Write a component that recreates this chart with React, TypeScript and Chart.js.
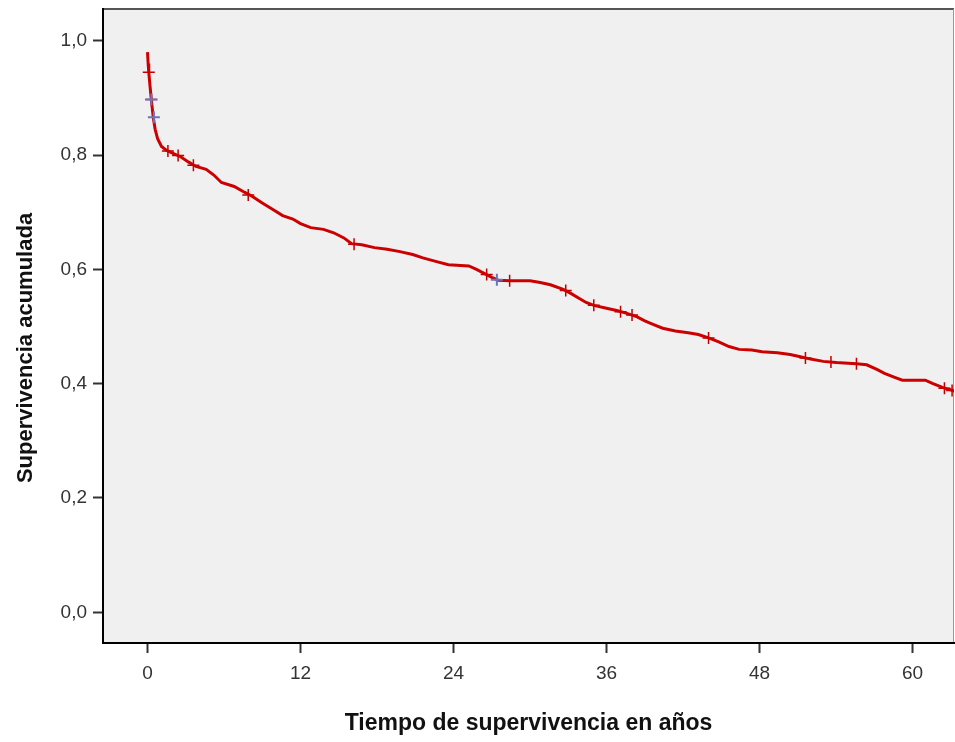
import React, { useEffect, useRef } from "react";
import { Chart, registerables } from "chart.js";

Chart.register(...registerables);

// Kaplan-Meier cumulative survival
const SURV_TIMES = [
  0, 0.05, 0.1, 0.2, 0.3, 0.45, 0.6, 0.8, 1.1, 1.5, 2.0, 2.6, 3.2, 3.8, 4.6, 5.2, 5.8, 6.8, 7.6, 8.2,
  9.0, 9.8, 10.6, 11.4, 12.0, 12.8, 13.8, 14.6, 15.4, 16.0, 16.8, 17.8, 18.8, 19.8, 20.8, 21.6, 22.6,
  23.6, 25.2, 25.8, 26.4, 27.0, 27.5, 28.4, 30.0, 30.8, 31.6, 32.6, 33.2, 33.8, 34.4, 35.0, 36.0, 36.8,
  37.6, 38.4, 39.0, 39.6, 40.4, 41.4, 42.4, 43.2, 44.0, 44.8, 45.6, 46.4, 47.4, 48.2, 49.4, 50.4, 51.2,
  52.0, 53.0, 54.0, 55.6, 56.4, 57.2, 57.8, 58.6, 59.2, 61.0, 61.6, 62.4, 63.3,
];
const SURV_VALUES = [
  0.98, 0.96, 0.945, 0.92, 0.897, 0.866, 0.845, 0.828, 0.815, 0.808, 0.803, 0.797, 0.788, 0.78, 0.775,
  0.765, 0.752, 0.745, 0.735, 0.728, 0.716, 0.705, 0.694, 0.688, 0.68, 0.673, 0.67, 0.664, 0.655, 0.645,
  0.643, 0.638, 0.635, 0.631, 0.626, 0.62, 0.614, 0.608, 0.606, 0.6, 0.593, 0.586, 0.581, 0.58, 0.58,
  0.577, 0.573, 0.565, 0.558, 0.55, 0.542, 0.537, 0.532, 0.528, 0.523, 0.517, 0.51, 0.504, 0.497, 0.492,
  0.489, 0.486, 0.48, 0.473, 0.465, 0.46, 0.459, 0.456, 0.454, 0.451, 0.447, 0.443, 0.439, 0.437, 0.435,
  0.433, 0.425, 0.418, 0.411, 0.406, 0.406, 0.4, 0.393, 0.387,
];

// Censored observations (red)
const CENSOR_TIMES = [
  0.1, 0.3, 1.6, 2.4, 3.6, 7.9, 16.2, 26.6, 28.4, 32.8, 35.0, 37.1, 38.0, 44.0, 51.6, 53.6, 55.6, 62.5, 63.1,
];
const CENSOR_VALUES = [
  0.945, 0.897, 0.807, 0.799, 0.782, 0.73, 0.644, 0.591, 0.58, 0.563, 0.537, 0.526, 0.52, 0.48, 0.445,
  0.438, 0.435, 0.392, 0.388,
];
// Censored observations (blue)
const CENSOR_BLUE_TIMES = [0.3, 0.5, 27.4];
const CENSOR_BLUE_VALUES = [0.897, 0.866, 0.582];

const X_TICKS = [0, 12, 24, 36, 48, 60];
const Y_TICKS = [0, 0.2, 0.4, 0.6, 0.8, 1.0];
const X_TITLE = "Tiempo de supervivencia en años";
const Y_TITLE = "Supervivencia acumulada";

const plotBgPlugin = {
  id: "plotBg",
  beforeDraw(chart: any) {
    const { ctx, chartArea } = chart;
    const { left, top, right, bottom } = chartArea;
    ctx.save();
    ctx.fillStyle = "#f0f0f0";
    ctx.fillRect(left, top, right - left, bottom - top);
    ctx.strokeStyle = "#555555";
    ctx.lineWidth = 2;
    ctx.beginPath();
    ctx.moveTo(left, top);
    ctx.lineTo(right, top);
    ctx.stroke();
    ctx.strokeStyle = "#999999";
    ctx.lineWidth = 1;
    ctx.beginPath();
    ctx.moveTo(right - 0.5, top);
    ctx.lineTo(right - 0.5, bottom);
    ctx.stroke();
    ctx.restore();
  },
};

const yTitlePlugin = {
  id: "yTitle",
  afterDraw(chart: any) {
    const { ctx, chartArea } = chart;
    ctx.save();
    ctx.translate(chartArea.left - 77, (chartArea.top + chartArea.bottom) / 2 + 22);
    ctx.rotate(-Math.PI / 2);
    ctx.font = 'bold 22px "Liberation Sans"';
    ctx.fillStyle = "#111111";
    ctx.textAlign = "center";
    ctx.textBaseline = "middle";
    ctx.fillText(Y_TITLE, 0, 0);
    ctx.restore();
  },
};

export default function App() {
  const canvasRef = useRef<HTMLCanvasElement | null>(null);

  useEffect(() => {
    const canvas = canvasRef.current;
    if (!canvas) return;
    const curve = SURV_TIMES.map((t, i) => ({ x: t, y: SURV_VALUES[i] }));
    const censRed = CENSOR_TIMES.map((t, i) => ({ x: t, y: CENSOR_VALUES[i] }));
    const censBlue = CENSOR_BLUE_TIMES.map((t, i) => ({ x: t, y: CENSOR_BLUE_VALUES[i] }));

    const tickFont = { family: '"Liberation Sans", Arial, sans-serif', size: 19 };

    const chart = new Chart(canvas, {
      type: "scatter",
      data: {
        datasets: [
          {
            label: "Censurado (azul)",
            data: censBlue,
            pointStyle: "cross",
            pointRadius: 6,
            borderColor: "#6a74c0",
            backgroundColor: "#6a74c0",
            borderWidth: 2,
            showLine: false,
          },
          {
            label: "Supervivencia",
            data: curve,
            showLine: true,
            borderColor: "#cc0000",
            backgroundColor: "#cc0000",
            borderWidth: 3,
            pointRadius: 0,
            tension: 0,
          },
          {
            label: "Censurado",
            data: censRed,
            pointStyle: "cross",
            pointRadius: 6,
            borderColor: "#c00000",
            backgroundColor: "#c00000",
            borderWidth: 1.5,
            showLine: false,
          },
        ],
      },
      options: {
        responsive: false,
        animation: false,
        devicePixelRatio: 1,
        layout: { autoPadding: false, padding: { top: 9, right: 1, left: 0, bottom: 7 } },
        plugins: {
          legend: { display: false },
          tooltip: { enabled: false },
          title: { display: false },
        },
        scales: {
          x: {
            type: "linear",
            min: -3.49,
            max: 63.25,
            afterFit: (s: any) => {
              s.height = 92;
              s.paddingLeft = 0;
              s.paddingRight = 0;
            },
            afterBuildTicks: (s: any) => {
              s.ticks = X_TICKS.map((v) => ({ value: v }));
            },
            grid: {
              drawOnChartArea: false,
              drawTicks: true,
              tickLength: 10,
              tickColor: "#333333",
              tickWidth: 2,
            },
            border: { display: true, color: "#000000", width: 2 },
            ticks: {
              font: tickFont,
              color: "#333333",
              padding: 9,
              maxRotation: 0,
              autoSkip: false,
              callback: (v: any) => String(v),
            },
            title: {
              display: true,
              text: X_TITLE,
              color: "#111111",
              font: { family: '"Liberation Sans", Arial, sans-serif', size: 23, weight: "bold", lineHeight: 1 },
              padding: 0,
            },
          },
          y: {
            type: "linear",
            min: -0.0537,
            max: 1.0555,
            afterFit: (s: any) => {
              s.width = 103;
              s.paddingTop = 0;
              s.paddingBottom = 0;
            },
            afterBuildTicks: (s: any) => {
              s.ticks = Y_TICKS.map((v) => ({ value: v }));
            },
            grid: {
              drawOnChartArea: false,
              drawTicks: true,
              tickLength: 10,
              tickColor: "#333333",
              tickWidth: 2,
            },
            border: { display: true, color: "#000000", width: 2 },
            ticks: {
              font: tickFont,
              color: "#333333",
              padding: 6,
              autoSkip: false,
              callback: (v: any) => Number(v).toFixed(1).replace(".", ","),
            },
          },
        },
      },
      plugins: [plotBgPlugin, yTitlePlugin],
    });

    return () => {
      chart.destroy();
    };
  }, []);

  return (
    <div style={{ position: "absolute", left: 0, top: 0, width: 955, height: 742, background: "#ffffff" }}>
      <canvas ref={canvasRef} width={955} height={742} style={{ display: "block" }} />
    </div>
  );
}
